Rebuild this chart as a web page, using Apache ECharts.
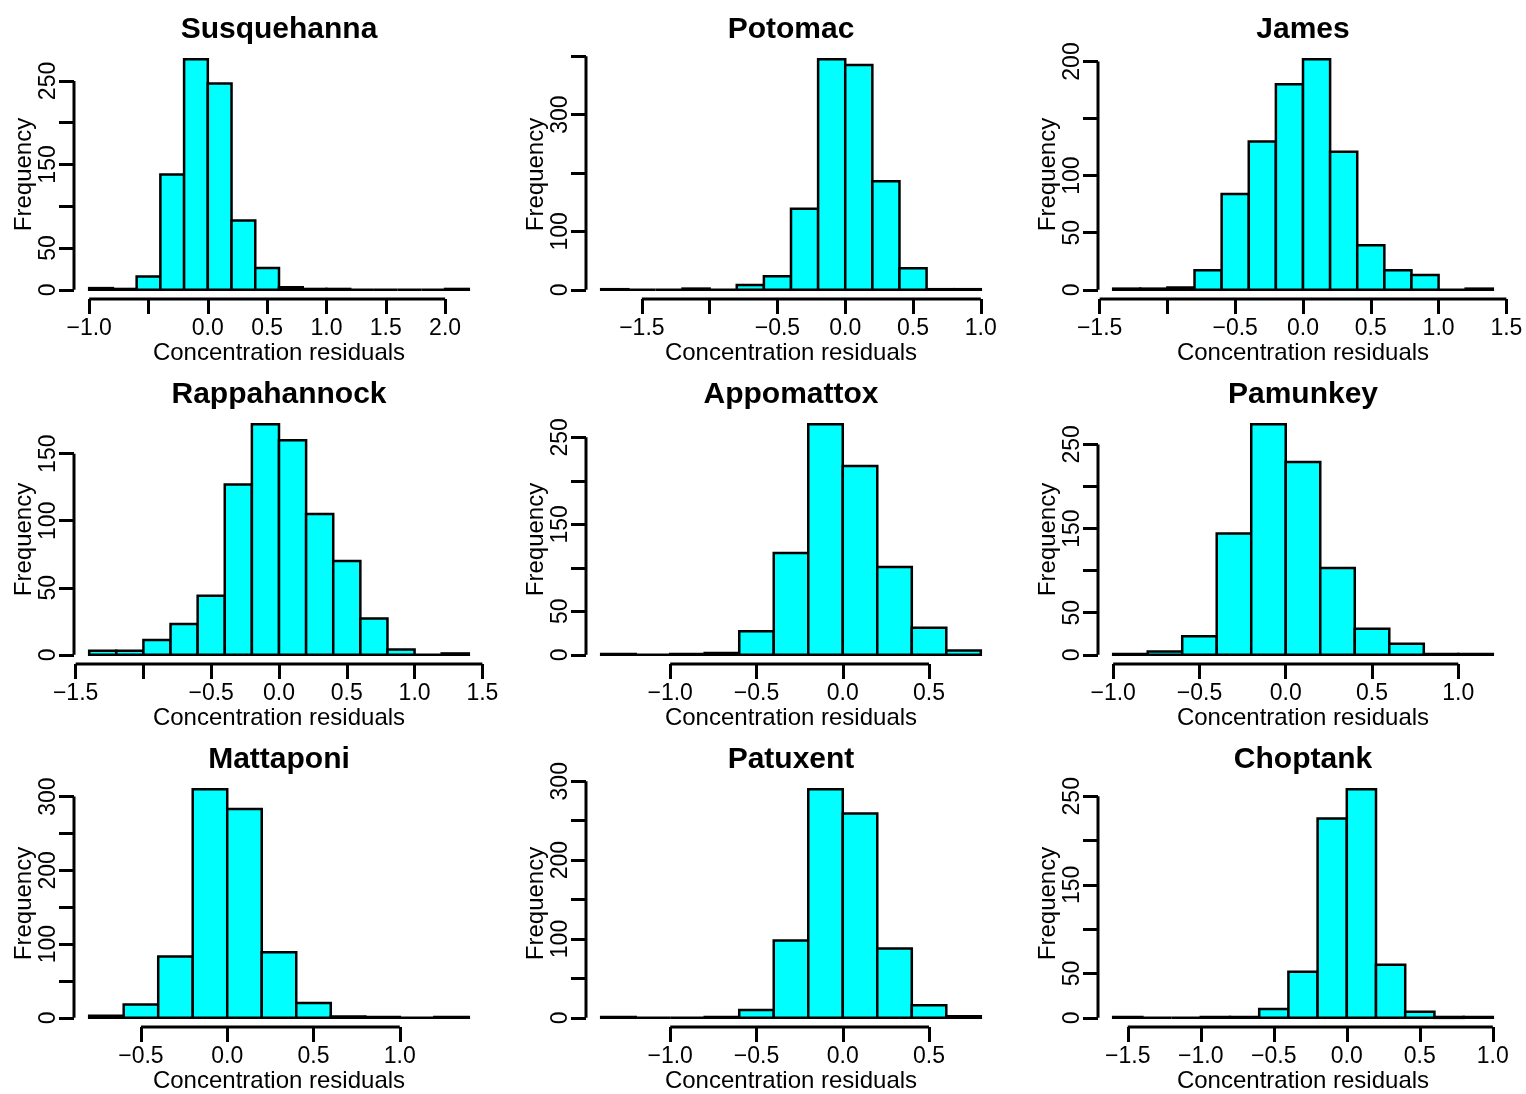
<!DOCTYPE html>
<html>
<head>
<meta charset="utf-8">
<script src="https://cdn.jsdelivr.net/npm/echarts@6/dist/echarts.min.js"></script>
<style>
html,body{margin:0;padding:0;background:#fff;}
#chart{width:1526px;height:1094px;}
</style>
</head>
<body>
<div id="chart"></div>
<script>
// ---------- data ----------
const titles = ['Susquehanna','Potomac','James','Rappahannock','Appomattox','Pamunkey','Mattaponi','Patuxent','Choptank'];

const susqBreaks = [-1.0,-0.8,-0.6,-0.4,-0.2,0.0,0.2,0.4,0.6,0.8,1.0,1.2,1.4,1.6,1.8,2.0,2.2];
const susqCounts = [2,1,16,138,276,247,83,26,3,1,1,0,0,0,0,1];
const susqXTicks = [-1.0,-0.5,0.0,0.5,1.0,1.5,2.0];
const susqXLabels = [-1.0,0.0,0.5,1.0,1.5,2.0];
const susqYTicks = [0,50,100,150,200,250];
const susqYLabels = [0,50,150,250];

const potoBreaks = [-1.8,-1.6,-1.4,-1.2,-1.0,-0.8,-0.6,-0.4,-0.2,0.0,0.2,0.4,0.6,0.8,1.0];
const potoCounts = [1,0,0,2,0,8,23,139,395,385,186,37,1,1];
const potoXTicks = [-1.5,-1.0,-0.5,0.0,0.5,1.0];
const potoXLabels = [-1.5,-0.5,0.0,0.5,1.0];
const potoYTicks = [0,100,200,300,400];
const potoYLabels = [0,100,300];

const jamesBreaks = [-1.4,-1.2,-1.0,-0.8,-0.6,-0.4,-0.2,0.0,0.2,0.4,0.6,0.8,1.0,1.2,1.4];
const jamesCounts = [1,1,2,17,84,130,180,202,121,39,17,13,0,1];
const jamesXTicks = [-1.5,-1.0,-0.5,0.0,0.5,1.0,1.5];
const jamesXLabels = [-1.5,-0.5,0.0,0.5,1.0,1.5];
const jamesYTicks = [0,50,100,150,200];
const jamesYLabels = [0,50,100,200];

const rappBreaks = [-1.4,-1.2,-1.0,-0.8,-0.6,-0.4,-0.2,0.0,0.2,0.4,0.6,0.8,1.0,1.2,1.4];
const rappCounts = [3,3,11,23,44,127,172,160,105,70,27,4,0,1];
const rappXTicks = [-1.5,-1.0,-0.5,0.0,0.5,1.0,1.5];
const rappXLabels = [-1.5,-0.5,0.0,0.5,1.0,1.5];
const rappYTicks = [0,50,100,150];
const rappYLabels = [0,50,100,150];

const appoBreaks = [-1.4,-1.2,-1.0,-0.8,-0.6,-0.4,-0.2,0.0,0.2,0.4,0.6,0.8];
const appoCounts = [1,0,1,2,27,117,265,217,101,31,5];
const appoXTicks = [-1.0,-0.5,0.0,0.5];
const appoXLabels = [-1.0,-0.5,0.0,0.5];
const appoYTicks = [0,50,100,150,200,250];
const appoYLabels = [0,50,150,250];

const pamuBreaks = [-1.0,-0.8,-0.6,-0.4,-0.2,0.0,0.2,0.4,0.6,0.8,1.0,1.2];
const pamuCounts = [1,4,22,144,274,229,103,31,13,1,1];
const pamuXTicks = [-1.0,-0.5,0.0,0.5,1.0];
const pamuXLabels = [-1.0,-0.5,0.0,0.5,1.0];
const pamuYTicks = [0,50,100,150,200,250];
const pamuYLabels = [0,50,150,250];

const mattBreaks = [-0.8,-0.6,-0.4,-0.2,0.0,0.2,0.4,0.6,0.8,1.0,1.2,1.4];
const mattCounts = [3,18,83,310,283,89,20,2,1,0,1];
const mattXTicks = [-0.5,0.0,0.5,1.0];
const mattXLabels = [-0.5,0.0,0.5,1.0];
const mattYTicks = [0,50,100,150,200,250,300];
const mattYLabels = [0,100,200,300];

const patuBreaks = [-1.4,-1.2,-1.0,-0.8,-0.6,-0.4,-0.2,0.0,0.2,0.4,0.6,0.8];
const patuCounts = [1,0,0,1,10,98,290,259,88,16,2];
const patuXTicks = [-1.0,-0.5,0.0,0.5];
const patuXLabels = [-1.0,-0.5,0.0,0.5];
const patuYTicks = [0,50,100,150,200,250,300];
const patuYLabels = [0,100,200,300];

const chopBreaks = [-1.6,-1.4,-1.2,-1.0,-0.8,-0.6,-0.4,-0.2,0.0,0.2,0.4,0.6,0.8,1.0];
const chopCounts = [1,0,0,1,1,10,52,225,258,60,7,1,1];
const chopXTicks = [-1.5,-1.0,-0.5,0.0,0.5,1.0];
const chopXLabels = [-1.5,-1.0,-0.5,0.0,0.5,1.0];
const chopYTicks = [0,50,100,150,200,250];
const chopYLabels = [0,50,150,250];

const xAxisTitle = 'Concentration residuals';
const yAxisTitle = 'Frequency';

// ---------- layout ----------
const panels = [
  [susqBreaks, susqCounts, susqXTicks, susqXLabels, susqYTicks, susqYLabels],
  [potoBreaks, potoCounts, potoXTicks, potoXLabels, potoYTicks, potoYLabels],
  [jamesBreaks, jamesCounts, jamesXTicks, jamesXLabels, jamesYTicks, jamesYLabels],
  [rappBreaks, rappCounts, rappXTicks, rappXLabels, rappYTicks, rappYLabels],
  [appoBreaks, appoCounts, appoXTicks, appoXLabels, appoYTicks, appoYLabels],
  [pamuBreaks, pamuCounts, pamuXTicks, pamuXLabels, pamuYTicks, pamuYLabels],
  [mattBreaks, mattCounts, mattXTicks, mattXLabels, mattYTicks, mattYLabels],
  [patuBreaks, patuCounts, patuXTicks, patuXLabels, patuYTicks, patuYLabels],
  [chopBreaks, chopCounts, chopXTicks, chopXLabels, chopYTicks, chopYLabels]
];

const colLeft = [74, 586, 1098];
const rowTop = [50, 415, 780];
const plotW = 410, plotH = 249;
const FONT = '"Liberation Sans", Arial, Helvetica, sans-serif';

const grid = [], xAxis = [], yAxis = [], series = [], title = [];

panels.forEach((p, i) => {
  const [breaks, counts, xTicks, xLabels, yTicks, yLabels] = p;
  const col = i % 3, row = Math.floor(i / 3);
  const b0 = breaks[0], bN = breaks[breaks.length - 1];
  const xr = bN - b0;
  const xMin = b0 - 0.04 * xr, xMax = bN + 0.04 * xr;
  const M = Math.max.apply(null, counts);
  const yMin = -0.04 * M, yMax = 1.04 * M;

  grid.push({left: colLeft[col], top: rowTop[row], width: plotW, height: plotH, containLabel: false});

  title.push({
    text: titles[i],
    left: colLeft[col] + plotW / 2,
    top: rowTop[row] - 35,
    textAlign: 'center',
    padding: 0,
    textStyle: {fontFamily: FONT, fontWeight: 'bold', fontSize: 30, color: '#000'}
  });

  xAxis.push({
    type: 'value', gridIndex: i, min: xMin, max: xMax, position: 'bottom',
    axisLine: {show: false, onZero: false},
    splitLine: {show: false},
    axisTick: {show: true, inside: false, customValues: xTicks, length: 15, lineStyle: {color: '#000', width: 3}},
    axisLabel: {
      show: true, customValues: xLabels, margin: 18,
      fontFamily: FONT, fontSize: 23, color: '#000',
      formatter: v => Number(v).toFixed(1).replace('-', '\u2212')
    },
    name: xAxisTitle, nameLocation: 'middle', nameGap: 42,
    nameTextStyle: {fontFamily: FONT, fontSize: 24, color: '#000'}
  });

  yAxis.push({
    type: 'value', gridIndex: i, min: yMin, max: yMax, position: 'left',
    axisLine: {show: false, onZero: false},
    splitLine: {show: false},
    axisTick: {show: true, inside: false, customValues: yTicks, length: 15, lineStyle: {color: '#000', width: 3}},
    axisLabel: {
      show: true, customValues: yLabels, margin: 14, rotate: 90,
      fontFamily: FONT, fontSize: 23, color: '#000',
      formatter: v => String(Math.round(v))
    },
    name: yAxisTitle, nameLocation: 'middle', nameGap: 36, nameRotate: 90,
    nameTextStyle: {fontFamily: FONT, fontSize: 24, color: '#000'}
  });

  series.push({
    type: 'custom', xAxisIndex: i, yAxisIndex: i, clip: false,
    encode: {x: [0, 1], y: 2},
    data: counts.map((c, k) => [breaks[k], breaks[k + 1], c]),
    renderItem: (params, api) => {
      const p0 = api.coord([api.value(0), api.value(2)]);
      const p1 = api.coord([api.value(1), 0]);
      return {
        type: 'rect',
        shape: {x: p0[0], y: p0[1], width: p1[0] - p0[0], height: p1[1] - p0[1]},
        style: {fill: '#00FFFF', stroke: '#000', lineWidth: 2.5}
      };
    }
  });

  // axis lines spanning first to last tick, R style
  series.push({
    type: 'line', xAxisIndex: i, yAxisIndex: i, clip: false, silent: true,
    symbol: 'none', lineStyle: {color: '#000', width: 3},
    data: [[xTicks[0], yMin], [xTicks[xTicks.length - 1], yMin]]
  });
  series.push({
    type: 'line', xAxisIndex: i, yAxisIndex: i, clip: false, silent: true,
    symbol: 'none', lineStyle: {color: '#000', width: 3},
    data: [[xMin, yTicks[0]], [xMin, yTicks[yTicks.length - 1]]]
  });
});

const chart = echarts.init(document.getElementById('chart'), null, {renderer: 'canvas'});
chart.setOption({
  animation: false,
  backgroundColor: '#fff',
  title, grid, xAxis, yAxis, series
});
</script>
</body>
</html>
